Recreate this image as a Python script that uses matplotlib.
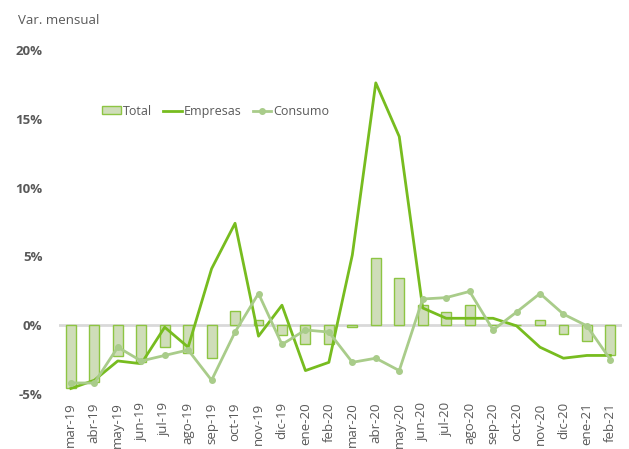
import numpy as np
import matplotlib
matplotlib.use("Agg")
import matplotlib.pyplot as plt
from matplotlib.ticker import FuncFormatter

meses = ["mar-19", "abr-19", "may-19", "jun-19", "jul-19", "ago-19", "sep-19", "oct-19",
         "nov-19", "dic-19", "ene-20", "feb-20", "mar-20", "abr-20", "may-20", "jun-20",
         "jul-20", "ago-20", "sep-20", "oct-20", "nov-20", "dic-20", "ene-21", "feb-21"]

total = [-4.6, -4.1, -2.25, -2.7, -1.6, -2.0, -2.4, 1.0,
         0.35, -0.7, -1.4, -1.4, -0.15, 4.9, 3.4, 1.5,
         0.95, 1.45, 0.0, 0.0, 0.35, -0.65, -1.15, -2.2]

empresas = [-4.6, -4.0, -2.6, -2.8, -0.15, -1.6, 4.1, 7.4,
            -0.8, 1.45, -3.3, -2.7, 5.1, 17.6, 13.7, 1.25,
            0.5, 0.5, 0.5, -0.05, -1.6, -2.4, -2.2, -2.2]

consumo = [-4.2, -4.2, -1.6, -2.6, -2.2, -1.8, -4.0, -0.5,
           2.3, -1.4, -0.35, -0.5, -2.7, -2.4, -3.3, 1.9,
           2.0, 2.45, -0.35, 0.95, 2.3, 0.8, -0.05, -2.5]

plt.rcParams['font.family'] = ['Open Sans', 'DejaVu Sans']
gris = "#595959"

fig = plt.figure(figsize=(6.29, 4.49), dpi=100)
ax = fig.add_axes([0.094, 0.1225, 0.895, 0.7665])

x = np.arange(len(meses))
ax.axhline(0, color="#D9D9D9", lw=2, zorder=1)
barras = ax.bar(x, total, width=0.42, color="#CFDDB9", edgecolor="#8DC543",
                linewidth=1, label="Total", zorder=2)
l_emp, = ax.plot(x, empresas, color="#77BC1F", lw=2, label="Empresas", zorder=3)
l_con, = ax.plot(x, consumo, color="#A9CC8A", lw=2, marker="o", markersize=4,
                 label="Consumo", zorder=3)

ax.set_xlim(-0.5, len(meses) - 0.5)
ax.set_ylim(-5, 20)
ax.set_yticks([-5, 0, 5, 10, 15, 20])
ax.yaxis.set_major_formatter(FuncFormatter(lambda v, p: f"{v:.0f}%"))
ax.set_xticks(x)
ax.set_xticklabels(meses, rotation=90, fontsize=9.5, color=gris)
for t in ax.get_yticklabels():
    t.set_fontweight("bold")
    t.set_fontsize(9.5)
    t.set_color(gris)
ax.tick_params(length=0)
ax.tick_params(axis="y", pad=12)
ax.tick_params(axis="x", pad=6)
for s in ax.spines.values():
    s.set_visible(False)

ax.legend([barras, l_emp, l_con], ["Total", "Empresas", "Consumo"],
          loc="center left", bbox_to_anchor=(0.162, 0.752),
          bbox_transform=fig.transFigure, borderaxespad=0, borderpad=0,
          ncol=3, frameon=False, fontsize=9, labelcolor=gris,
          handlelength=1.5, handleheight=0.6, handletextpad=0.15,
          columnspacing=0.9)

fig.text(0.028, 0.955, "Var. mensual", fontsize=9.5, color=gris, va="center")

fig.savefig("out.png", dpi=100)
